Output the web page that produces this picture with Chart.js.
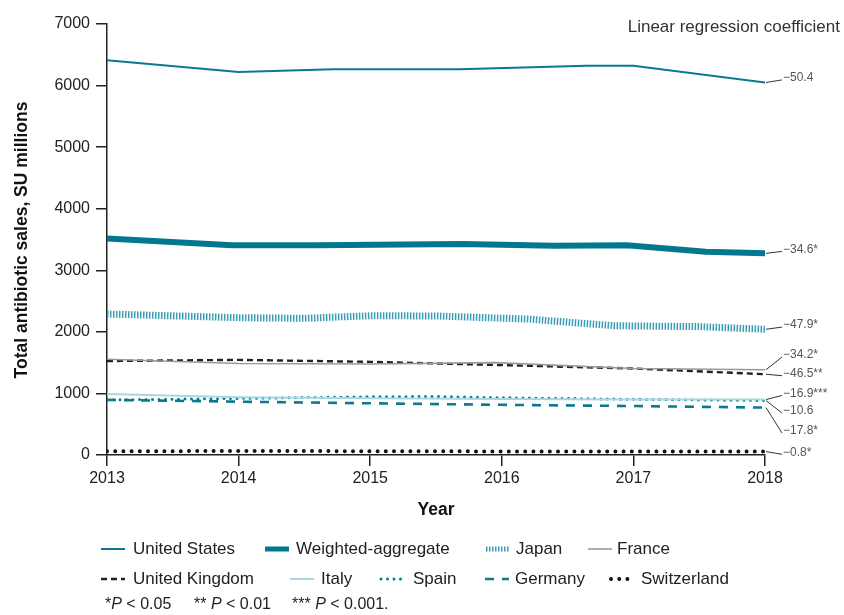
<!DOCTYPE html>
<html>
<head>
<meta charset="utf-8">
<script src="https://cdn.jsdelivr.net/npm/chart.js@4.4.1/dist/chart.umd.min.js"></script>
<style>
  html, body { margin: 0; padding: 0; background: #fff; }
  canvas { display: block; }
</style>
</head>
<body>
<canvas id="sales" width="844" height="615"></canvas>
<script>
var FONT = '"Liberation Sans Narrow", "Liberation Sans", Arial, sans-serif';

// yearly antibiotic sales (SU millions), [year, value]
var usSales = [[2013, 6410], [2014, 6220], [2014.72, 6266], [2015.68, 6266], [2016.64, 6320], [2017, 6320], [2018, 6050]];
var aggregateSales = [[2013, 3518], [2013.95, 3408], [2014.6, 3408], [2015.7, 3425], [2016.4, 3398], [2016.95, 3408], [2017.55, 3300], [2018, 3275]];
var japanSales = [[2013, 2290], [2014, 2230], [2014.5, 2220], [2015, 2262], [2015.5, 2258], [2016, 2222], [2016.2, 2208], [2016.85, 2100], [2017.5, 2085], [2018, 2042]];
var franceSales = [[2013, 1555], [2014, 1485], [2015, 1478], [2015.95, 1500], [2017, 1405], [2018, 1385]];
var ukSales = [[2013, 1526], [2014, 1545], [2015, 1513], [2016, 1460], [2017, 1405], [2018, 1312]];
var italySales = [[2013, 990], [2014, 936], [2015, 920], [2016, 910], [2017, 902], [2018, 900]];
var spainSales = [[2013, 895], [2013.5, 905], [2014, 920], [2015, 945], [2015.5, 950], [2016, 930], [2017, 905], [2018, 885]];
var germanySales = [[2013, 895], [2014, 866], [2015, 840], [2016, 815], [2017, 795], [2018, 770]];
var switzerlandSales = [[2013, 60], [2014, 65], [2015, 62], [2016, 58], [2017, 57], [2018, 55]];

var seriesNames = ['United States', 'Weighted-aggregate', 'Japan', 'France', 'United Kingdom', 'Italy', 'Spain', 'Germany', 'Switzerland'];
// linear regression coefficient per series, same order
var coefficients = ['\u221250.4', '\u221234.6*', '\u221247.9*', '\u221234.2*', '\u221246.5**', '\u221216.9***', '\u221210.6', '\u221217.8*', '\u22120.8*'];
var yTicks = [0, 1000, 2000, 3000, 4000, 5000, 6000, 7000];

function pts(arr) {
	return arr.map(function(p) { return { x: p[0], y: p[1] }; });
}

var TEAL = '#0b7a90';
var datasets = [
	{ data: pts(usSales), borderColor: TEAL, borderWidth: 2 },
	{ data: pts(aggregateSales), borderColor: '#007890', borderWidth: 6 },
	{ data: pts(japanSales), borderColor: '#3a9db4', borderWidth: 7, borderDash: [1.5, 1.5] },
	{ data: pts(franceSales), borderColor: '#9a9a9a', borderWidth: 1.6 },
	{ data: pts(ukSales), borderColor: '#222', borderWidth: 2.4, borderDash: [6, 4] },
	{ data: pts(italySales), borderColor: '#a9d7e0', borderWidth: 2 },
	{ data: pts(spainSales), borderColor: TEAL, borderWidth: 3, borderDash: [0, 6.5], borderCapStyle: 'round' },
	{ data: pts(germanySales), borderColor: TEAL, borderWidth: 2.6, borderDash: [9, 8] },
	{ data: pts(switzerlandSales), borderColor: '#111', borderWidth: 4, borderDash: [0, 8.2], borderCapStyle: 'round' }
];
datasets.forEach(function(ds, i) {
	ds.label = seriesNames[i];
	ds.pointRadius = 0;
	ds.tension = 0;
	ds.fill = false;
	ds.order = i === 1 ? -1 : 0;
});

// where each coefficient label sits, in axis units
var labelAt = [6125, 3339, 2110, 1623, 1320, 1000, 714, 390, 44];

var legendItems = [
	{ i: 0, row: 0, sx: 101, tx: 133 }, { i: 1, row: 0, sx: 265, tx: 296 },
	{ i: 2, row: 0, sx: 486, tx: 516 }, { i: 3, row: 0, sx: 588, tx: 617 },
	{ i: 4, row: 1, sx: 101, tx: 133 }, { i: 5, row: 1, sx: 290, tx: 321 },
	{ i: 6, row: 1, sx: 381, tx: 413 }, { i: 7, row: 1, sx: 485, tx: 515 },
	{ i: 8, row: 1, sx: 611, tx: 641 }
];

function strokeSample(ctx, ds, x1, x2, y, width) {
	ctx.save();
	ctx.strokeStyle = ds.borderColor;
	ctx.lineWidth = width || ds.borderWidth;
	ctx.setLineDash(ds.borderDash || []);
	ctx.lineCap = ds.borderCapStyle || 'butt';
	ctx.beginPath();
	ctx.moveTo(x1, y);
	ctx.lineTo(x2, y);
	ctx.stroke();
	ctx.restore();
}

var annotations = {
	id: 'annotations',
	afterDraw: function(chart) {
		var ctx = chart.ctx;
		var ys = chart.scales.y;
		var area = chart.chartArea;
		ctx.save();

		// axis titles
		ctx.fillStyle = '#111';
		ctx.font = 'bold 17.5px ' + FONT;
		ctx.textAlign = 'center';
		ctx.textBaseline = 'middle';
		ctx.fillText('Year', (area.left + area.right) / 2, 510);
		ctx.save();
		ctx.translate(22, 240);
		ctx.rotate(-Math.PI / 2);
		ctx.fillText('Total antibiotic sales, SU millions', 0, 0);
		ctx.restore();

		ctx.fillStyle = '#333';
		ctx.font = '17px ' + FONT;
		ctx.textAlign = 'right';
		ctx.fillText('Linear regression coefficient', 840, 27);

		// coefficient labels with leader lines
		ctx.textAlign = 'left';
		ctx.font = '12px ' + FONT;
		chart.data.datasets.forEach(function(ds, i) {
			var last = ds.data[ds.data.length - 1];
			var y0 = ys.getPixelForValue(last.y);
			var ty = ys.getPixelForValue(labelAt[i]);
			ctx.strokeStyle = '#333';
			ctx.lineWidth = 1;
			ctx.setLineDash([]);
			ctx.beginPath();
			ctx.moveTo(area.right + 1, y0);
			ctx.lineTo(area.right + 17, ty + 2);
			ctx.stroke();
			ctx.fillStyle = '#555';
			ctx.fillText(coefficients[i], area.right + 18, ty);
		});

		// legend
		ctx.font = '17px ' + FONT;
		legendItems.forEach(function(it) {
			var ds = chart.data.datasets[it.i];
			var y = it.row === 0 ? 549 : 579;
			var w = ds.borderWidth > 5 ? 5 : null;
			strokeSample(ctx, ds, it.sx, it.sx + 24, y, w);
			ctx.fillStyle = '#222';
			ctx.fillText(ds.label, it.tx, y);
		});

		// significance footnote
		var parts = [['*', ''], ['P', 'italic '], [' < 0.05', ''], ['', ''],
			['** ', ''], ['P', 'italic '], [' < 0.01', ''], ['', ''],
			['*** ', ''], ['P', 'italic '], [' < 0.001.', '']];
		var starts = [105, 194, 292];
		var k = 0, x = starts[0];
		ctx.fillStyle = '#222';
		parts.forEach(function(p) {
			if (p[0] === '') { k++; x = starts[k]; return; }
			ctx.font = p[1] + '16px ' + FONT;
			ctx.fillText(p[0], x, 605);
			x += ctx.measureText(p[0]).width;
		});
		ctx.restore();
	}
};

new Chart(document.getElementById('sales'), {
	type: 'line',
	data: { datasets: datasets },
	options: {
		responsive: false,
		animation: false,
		devicePixelRatio: 1,
		layout: { padding: { left: 0, top: 24, right: 79, bottom: 0 } },
		plugins: { legend: { display: false }, tooltip: { enabled: false } },
		scales: {
			x: {
				type: 'linear',
				min: 2013,
				max: 2018,
				afterFit: function(scale) { scale.height = 160; },
				grid: { drawOnChartArea: false, drawTicks: true, tickLength: 11, color: '#222', lineWidth: 1.5 },
				border: { display: true, color: '#222', width: 1.5 },
				ticks: {
					stepSize: 1,
					padding: 3,
					color: '#222',
					font: { family: FONT, size: 16 },
					callback: function(v) { return String(v); }
				}
			},
			y: {
				min: 0,
				max: 7000,
				afterFit: function(scale) { scale.width = 107; },
				afterBuildTicks: function(scale) {
					scale.ticks = yTicks.map(function(v) { return { value: v }; });
				},
				grid: { drawOnChartArea: false, drawTicks: true, tickLength: 11, color: '#222', lineWidth: 1.5 },
				border: { display: true, color: '#222', width: 1.5 },
				ticks: {
					padding: 6,
					color: '#222',
					font: { family: FONT, size: 16 },
					callback: function(v) { return String(v); }
				}
			}
		}
	},
	plugins: [annotations]
});
</script>
</body>
</html>
